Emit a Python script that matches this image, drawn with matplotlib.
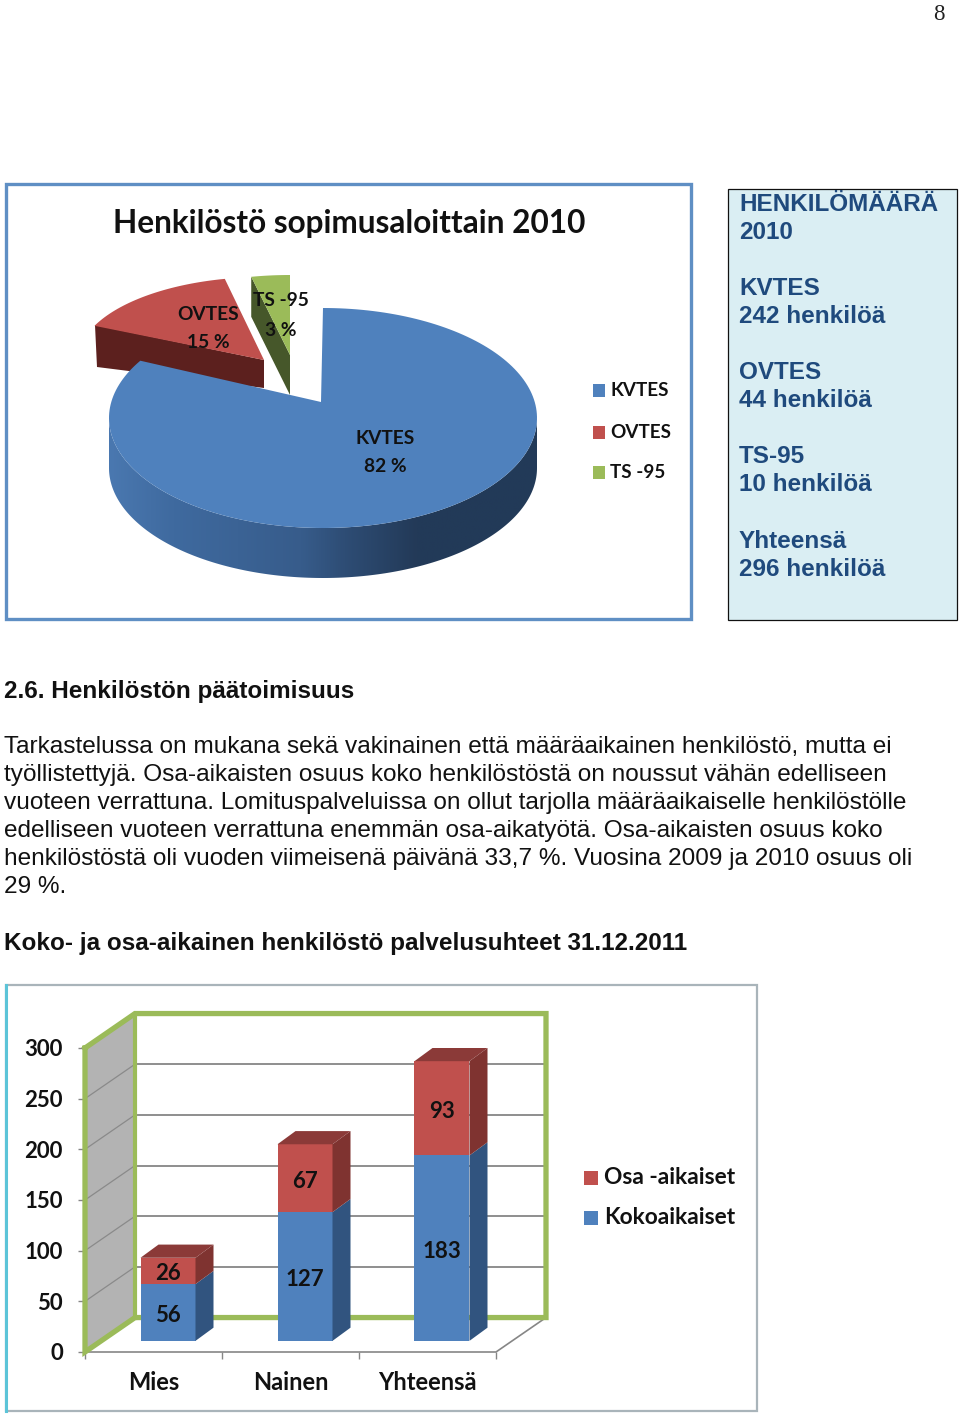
"""Report page: contract pie, staff text and the stacked full/part-time bars."""
import matplotlib
matplotlib.use("Agg")
import matplotlib.pyplot as plt
import numpy as np
from matplotlib.colors import LinearSegmentedColormap
from matplotlib.patches import Polygon, Rectangle

# pie data
pie_names = ["KVTES", "OVTES", "TS -95"]
pie_people = [242, 44, 10]
pie_percent = ["82 %", "15 %", "3 %"]

# bar data
bar_categories = ["Mies", "Nainen", "Yhteensä"]
full_time = [56, 127, 183]
part_time = [26, 67, 93]
y_ticks = [0, 50, 100, 150, 200, 250, 300]

# page text
pie_title = "Henkilöstö sopimusaloittain 2010"
box_lines = [
    ("HENKILÖMÄÄRÄ", 211), ("2010", 239),
    ("KVTES", 295), ("242 henkilöä", 323),
    ("OVTES", 379), ("44 henkilöä", 407),
    ("TS-95", 463), ("10 henkilöä", 491),
    ("Yhteensä", 548), ("296 henkilöä", 576),
]
body_lines = [
    "Tarkastelussa on mukana sekä vakinainen että määräaikainen henkilöstö, mutta ei",
    "työllistettyjä. Osa-aikaisten osuus koko henkilöstöstä on noussut vähän edelliseen",
    "vuoteen verrattuna. Lomituspalveluissa on ollut tarjolla määräaikaiselle henkilöstölle",
    "edelliseen vuoteen verrattuna enemmän osa-aikatyötä. Osa-aikaisten osuus koko",
    "henkilöstöstä oli vuoden viimeisenä päivänä 33,7 %. Vuosina 2009 ja 2010 osuus oli",
    "29 %.",
]

BLUE, RED, GREEN = "#4f81bd", "#c0504d", "#9bbb59"
INK = "#1f4a7d"
CHART_FONT = ["Lato", "DejaVu Sans"]
PAGE_FONT = ["Liberation Sans", "DejaVu Sans"]

fig = plt.figure(figsize=(9.6, 14.16), dpi=100, facecolor="white")
page = fig.add_axes([0, 0, 1, 1])
page.set_xlim(0, 960)
page.set_ylim(1416, 0)
page.axis("off")


def rim(theta, cx, cy, rx, ry):
    """Point on a flattened pie rim; theta in degrees clockwise from twelve."""
    t = np.radians(theta)
    return cx + rx * np.sin(t), cy - ry * np.cos(t)


# ---- page number, frames, side box
page.text(939, 20, "8", fontsize=16.5, family=["Liberation Serif"], ha="center", color="#222222")
page.add_patch(Rectangle((6, 184), 685, 435, fc="white", ec="#5f8fc4", lw=2.4))
page.add_patch(Rectangle((727.5, 188.5), 229.5, 431.5, fc="#daeef3", ec="#111111", lw=0.9))
for txt, y in box_lines:
    page.text(739, y, txt, fontsize=17.5, fontweight="bold", family=PAGE_FONT, color=INK, va="baseline")

# ---- pie: sweep of each slice comes from the head counts
shares = np.array(pie_people) / sum(pie_people)
ends = np.cumsum(shares) * 360
starts = ends - shares * 360

page.fill([95, 264, 264, 97], [325, 360, 388, 367], color="#5c201e", lw=0)  # red wall
th = np.linspace(starts[1], ends[1], 40)
rx, ry = rim(th, 264, 360, 186, 83)
page.fill(np.r_[264, rx], np.r_[360, ry], color=RED, lw=0)

th = np.linspace(starts[2], ends[2], 10)
rx, ry = rim(th, 290, 355, 184, 80)
page.fill([rx[0], 290, 290, rx[0]], [ry[0], 355, 395, ry[0] + 40], color="#46572a", lw=0)
page.fill(np.r_[290, rx], np.r_[355, ry], color=GREEN, lw=0)

# blue wall: horizontal gradient clipped to the rim band
wall_cmap = LinearSegmentedColormap.from_list(
    "wall", [(0, "#4a78b0"), (0.15, "#3f6a9f"), (0.45, "#375c8b"), (0.55, "#2e4d75"),
             (0.72, "#233a58"), (1, "#223a58")])
cx, cy, brx, bry = 323, 418, 214, 110
depth = 50
stretch = 1.024
t = np.linspace(90, 270, 181)
wx, wy = rim(t, cx, cy, brx, bry)
band = Polygon(np.c_[np.r_[wx, wx[::-1]], np.r_[wy, wy[::-1] + depth]], closed=True,
               transform=page.transData, fc="none", lw=0)
img = page.imshow(np.linspace(0, 1, 256)[None, :], cmap=wall_cmap, aspect="auto", zorder=1,
                  extent=(cx - brx, cx + brx, cy + bry + depth, cy))
img.set_clip_path(band)
page.set_xlim(0, 960)
page.set_ylim(1416, 0)

th = np.linspace(starts[0], ends[0] * stretch, 200)
rx, ry = rim(th, cx, cy, brx, bry)
page.fill(np.r_[321, rx], np.r_[402, ry], color=BLUE, lw=0, zorder=1.2)

lab_kw = dict(family=CHART_FONT, fontweight="bold", ha="center", va="center",
              color="#111111", zorder=5)
page.text(208, 314, pie_names[1], fontsize=13.8, **lab_kw)
page.text(208, 342, pie_percent[1], fontsize=13.8, **lab_kw)
page.text(281, 301, pie_names[2], fontsize=13.8, **lab_kw)
page.text(281, 331, pie_percent[2], fontsize=13.8, **lab_kw)
page.text(385, 438, pie_names[0], fontsize=13.8, **lab_kw)
page.text(385, 466, pie_percent[0], fontsize=13.8, **lab_kw)
page.text(349, 223, pie_title, family=CHART_FONT, fontsize=22.7, fontweight="bold",
          ha="center", va="center", color="#111111")
for name, col, y in zip(pie_names, [BLUE, RED, GREEN], [391, 433, 473]):
    page.add_patch(Rectangle((593, y - 7), 12, 13, fc=col, lw=0))
    page.text(610, y, name, family=CHART_FONT, fontsize=13.6, fontweight="bold", va="center",
              color="#111111")

# ---- body text
page.text(4, 698, "2.6. Henkilöstön päätoimisuus", fontsize=17.5, fontweight="bold",
          family=PAGE_FONT, color="#111111")
for i, line in enumerate(body_lines):
    page.text(4, 753 + 28 * i, line, fontsize=17.6, family=PAGE_FONT, color="#111111")
page.text(4, 950, "Koko- ja osa-aikainen henkilöstö palvelusuhteet 31.12.2011", fontsize=17.5,
          fontweight="bold", family=PAGE_FONT, color="#111111")

# ---- bar chart
page.add_patch(Rectangle((6, 985), 751, 426, fc="white", ec="#a9b4ba", lw=1.6))
page.plot([6, 6], [985, 1411], color="#5cc4d8", lw=2.2)

# axes rectangle: y 0..300 on pixels 1352..1048, three categories on pixels 85..496
ax = fig.add_axes([85 / 960, 1 - 1352 / 1416, 411 / 960, 304 / 1416])
ax.set_xlim(-0.5, 2.5)
ax.set_ylim(0, 300)
ax.patch.set_alpha(0)
for s in ax.spines.values():
    s.set_visible(False)

x_cat = np.arange(len(bar_categories))
ymax = y_ticks[-1]
wall_dx, wall_dy = 50 / 137, 34
left = -0.5
right = 2.5

# grey side wall and grid
ax.fill([left, left + wall_dx, left + wall_dx, left], [0, wall_dy, ymax + wall_dy, ymax],
        color="#b3b3b3", lw=0, clip_on=False)
for v in y_ticks[1:-1]:
    ax.plot([left, left + wall_dx], [v, v + wall_dy], color="#8a8a8a", lw=0.9, clip_on=False, zorder=1.5)
    ax.plot([left + wall_dx, right + wall_dx], [v + wall_dy, v + wall_dy],
            color="#868686", lw=1.3, clip_on=False, zorder=1.5)
# grey floor edges
ax.plot([left, right, right + wall_dx], [0, 0, wall_dy], color="#868686", lw=1.2, clip_on=False)
# green frame
frame_x = [left, left + wall_dx, right + wall_dx, right + wall_dx, left + wall_dx, left, left]
frame_y = [ymax, ymax + wall_dy, ymax + wall_dy, wall_dy, wall_dy, 0, ymax]
ax.plot(frame_x, frame_y, color=GREEN, lw=3.8, solid_joinstyle="miter", clip_on=False, zorder=2)
ax.plot([left + wall_dx] * 2, [wall_dy, ymax + wall_dy], color=GREEN, lw=3, clip_on=False, zorder=2)

# bars on a plane slightly inside the floor, with painted side and top faces
bar_dx, bar_dy = 14.5 / 137, 11
width = 55 / 137
side_dx, side_dy = 18 / 137, 13
bx = x_cat + bar_dx
ax.bar(bx, full_time, width, bottom=bar_dy, color=BLUE, zorder=3)
ax.bar(bx, part_time, width, bottom=bar_dy + np.array(full_time), color=RED, zorder=3)
for xc, f, p in zip(bx, full_time, part_time):
    r = xc + width / 2
    l = xc - width / 2
    y0, y1, y2 = bar_dy, bar_dy + f, bar_dy + f + p
    ax.fill([r, r + side_dx, r + side_dx, r], [y0, y0 + side_dy, y1 + side_dy, y1],
            color="#31547f", lw=0, zorder=3, clip_on=False)
    ax.fill([r, r + side_dx, r + side_dx, r], [y1, y1 + side_dy, y2 + side_dy, y2],
            color="#7f3330", lw=0, zorder=3, clip_on=False)
    ax.fill([l, l + side_dx, r + side_dx, r], [y2, y2 + side_dy, y2 + side_dy, y2],
            color="#8b3a38", lw=0, zorder=3, clip_on=False)
    ax.text(xc, y0 + f / 2 - 3, str(f), fontsize=16, **lab_kw)
    ax.text(xc, y1 + p / 2 - 3, str(p), fontsize=16, **lab_kw)

ax.set_yticks(y_ticks)
ax.set_yticklabels([str(v) for v in y_ticks], family=CHART_FONT, fontsize=16, fontweight="bold",
                   color="#111111")
ax.set_xticks([-0.5, 0.5, 1.5, 2.5])
ax.set_xticklabels([])
ax.tick_params(axis="both", length=5, width=1, color="#868686", pad=11)
for xc, name in zip(x_cat, bar_categories):
    ax.text(xc, -30, name, family=CHART_FONT, fontsize=17, fontweight="bold", ha="center",
            va="center", color="#111111", clip_on=False)

for name, col, y in zip(["Osa -aikaiset", "Kokoaikaiset"], [RED, BLUE], [1178, 1218]):
    page.add_patch(Rectangle((584, y - 7), 14, 14, fc=col, lw=0))
    page.text(604, y, name, family=CHART_FONT, fontsize=16.4, fontweight="bold", va="center",
              color="#111111")

fig.savefig("out.png", dpi=100)
